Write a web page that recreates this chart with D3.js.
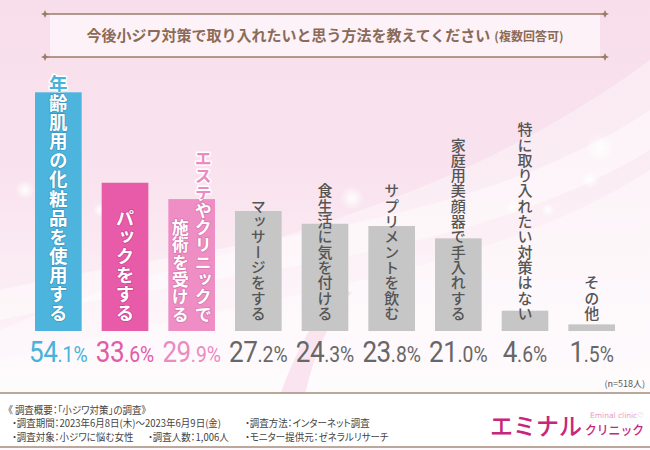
<!DOCTYPE html>
<html>
<head>
<meta charset="utf-8">
<script src="https://cdn.jsdelivr.net/npm/d3@7"></script>
<style>
  body { margin: 0; background: #fff; }
  svg { display: block; font-family: "Noto Sans CJK JP", "Noto Sans", sans-serif; }
</style>
</head>
<body>
<div id="chart"></div>
<script>
// answers (one entry per bar, "\n" splits a label into two columns)
let categories = [
    "年齢肌用の化粧品を使用する",
    "パックをする",
    "エステやクリニックで\n施術を受ける",
    "マッサージをする",
    "食生活に気を付ける",
    "サプリメントを飲む",
    "家庭用美顔器で手入れする",
    "特に取り入れたい対策はない",
    "その他"
];
let values = [54.1, 33.6, 29.9, 27.2, 24.3, 23.8, 21.0, 4.6, 1.5];

let titleText = "今後小ジワ対策で取り入れたいと思う方法を教えてください";
let titleNote = "(複数回答可)";
let sampleNote = "(n=518人)";
let footerLines = [
    ["《 調査概要：「小ジワ対策」の調査》"],
    ["・調査期間：2023年6月8日(木)～2023年6月9日(金)", "・調査方法：インターネット調査"],
    ["・調査対象：小ジワに悩む女性", "・調査人数：1,006人", "・モニター提供元：ゼネラルリサーチ"]
];

const width = 650, height = 450;
const baseline = 331;

const barColor = ["#4db5dd", "#e85ba8", "#ee8ec5", "#c6c6c6", "#c6c6c6", "#c6c6c6", "#c6c6c6", "#c6c6c6", "#c6c6c6"];
const textColor = ["#47b2da", "#e35aa6", "#ea8bc2", "#676767", "#676767", "#676767", "#676767", "#676767", "#676767"];
const strokeColor = ["#3a9cc6", "#cf4693", "#d977ae"];

const x = d3.scaleBand()
    .domain(d3.range(categories.length))
    .range([25, 625])
    .paddingInner(0.3)
    .paddingOuter(0.15);

const y = d3.scaleLinear()
    .domain([0, 60])
    .range([baseline, baseline - 60 * 4.412]);

let svg = d3.select("#chart")
    .append("svg")
    .attr("width", width)
    .attr("height", height);

let defs = svg.append("defs");

// background
let bg = defs.append("linearGradient")
    .attr("id", "bg")
    .attr("x1", 0).attr("y1", 0).attr("x2", 0).attr("y2", 1);
bg.append("stop").attr("offset", "0").attr("stop-color", "#f8deeb");
bg.append("stop").attr("offset", "0.4").attr("stop-color", "#f9e3ee");
bg.append("stop").attr("offset", "0.7").attr("stop-color", "#fcf0f6");
bg.append("stop").attr("offset", "1").attr("stop-color", "#fef9fc");

let glow = defs.append("radialGradient").attr("id", "glow");
glow.append("stop").attr("offset", "0").attr("stop-color", "#fff").attr("stop-opacity", 0.95);
glow.append("stop").attr("offset", "1").attr("stop-color", "#fff").attr("stop-opacity", 0);

svg.append("rect")
    .attr("width", width)
    .attr("height", height)
    .attr("fill", "url(#bg)");

// soft swooshes
svg.append("path")
    .attr("d", "M0,330 C180,250 420,230 650,60 L650,395 L0,395 Z")
    .attr("fill", "#fff")
    .attr("opacity", 0.35);
svg.append("path")
    .attr("d", "M0,290 C220,240 470,230 650,110 L650,150 C470,260 220,270 0,320 Z")
    .attr("fill", "#fff")
    .attr("opacity", 0.45);
svg.append("path")
    .attr("d", "M0,360 C230,300 480,280 650,170 L650,395 L0,395 Z")
    .attr("fill", "#fff")
    .attr("opacity", 0.4);
svg.append("path")
    .attr("d", "M280,395 C300,340 320,310 340,290 L352,292 C330,320 315,350 305,395 Z")
    .attr("fill", "#f6d6e6")
    .attr("opacity", 0.6);

[[600, 148, 14], [590, 180, 9], [548, 210, 7], [513, 207, 7], [455, 220, 6], [352, 198, 12], [100, 210, 7], [25, 190, 10]]
    .forEach(function(d) {
        svg.append("circle")
            .attr("cx", d[0]).attr("cy", d[1]).attr("r", d[2])
            .attr("fill", "url(#glow)");
    });

// title box
svg.append("rect")
    .attr("x", 50).attr("y", 14)
    .attr("width", 550).attr("height", 43)
    .attr("fill", "#fdf2f7");

[14, 57].forEach(function(ly) {
    svg.append("line")
        .attr("x1", 45).attr("x2", 605)
        .attr("y1", ly).attr("y2", ly)
        .attr("stroke", "#9a7c6a")
        .attr("stroke-width", 1.3);
    [45, 605].forEach(function(lx) {
        svg.append("path")
            .attr("d", `M${lx},${ly - 4} L${lx + 1.2},${ly - 1.2} L${lx + 4},${ly} L${lx + 1.2},${ly + 1.2} L${lx},${ly + 4} L${lx - 1.2},${ly + 1.2} L${lx - 4},${ly} L${lx - 1.2},${ly - 1.2} Z`)
            .attr("fill", "#9a7c6a");
    });
});

let title = svg.append("text")
    .attr("x", 325)
    .attr("y", 41)
    .attr("text-anchor", "middle")
    .attr("fill", "#8a6a58")
    .attr("font-weight", 700);
title.append("tspan").attr("font-size", 15).text(titleText);
title.append("tspan").attr("font-size", 12).attr("dx", 4).text(titleNote);

// bars
svg.append("g")
    .selectAll("rect")
    .data(values)
    .join("rect")
    .attr("x", (d, i) => x(i))
    .attr("y", d => y(d))
    .attr("width", x.bandwidth())
    .attr("height", d => baseline - y(d))
    .attr("fill", (d, i) => barColor[i]);

// clip paths for the coloured labels (white inside the bar, coloured above it)
values.slice(0, 3).forEach(function(d, i) {
    defs.append("clipPath").attr("id", "in" + i)
        .append("rect")
        .attr("x", x(i) - 10).attr("y", y(d))
        .attr("width", x.bandwidth() + 20).attr("height", baseline - y(d));
    defs.append("clipPath").attr("id", "out" + i)
        .append("rect")
        .attr("x", x(i) - 10).attr("y", 0)
        .attr("width", x.bandwidth() + 20).attr("height", y(d));
});

// vertical labels
let labels = svg.append("g");

categories.forEach(function(c, i) {
    let cols = c.split("\n");
    let cx = x(i) + x.bandwidth() / 2;
    let highlight = i < 3;
    let size = i < 2 ? 18.5 : (i == 2 ? 17 : 15);
    let bottom = highlight ? 323 : 321;

    cols.forEach(function(col, j) {
        let colX = cols.length == 1 ? cx : cx + (j == 0 ? 11.5 : -11.5);

        let addText = function(g) {
            return g.append("text")
                .attr("x", colX)
                .attr("y", bottom)
                .attr("text-anchor", "end")
                .style("writing-mode", "vertical-rl")
                .attr("font-size", size)
                .attr("letter-spacing", i < 2 ? 0.6 : 0.3)
                .attr("font-weight", highlight ? 700 : 500)
                .text(col);
        };

        if (highlight) {
            addText(labels.append("g").attr("clip-path", `url(#out${i})`))
                .attr("fill", textColor[i])
                .attr("stroke", "#fff")
                .attr("stroke-width", 3)
                .attr("paint-order", "stroke")
                .attr("stroke-linejoin", "round");
            addText(labels.append("g").attr("clip-path", `url(#in${i})`))
                .attr("fill", "#fff")
                .attr("stroke", strokeColor[i])
                .attr("stroke-width", 1.6)
                .attr("paint-order", "stroke")
                .attr("stroke-linejoin", "round");
        } else {
            addText(labels).attr("fill", "#555");
        }
    });
});

// percentages
let pct = svg.append("g")
    .selectAll("text")
    .data(values)
    .join("text")
    .attr("transform", (d, i) => `translate(${x(i) + x.bandwidth() / 2},362) scale(0.9,1)`)
    .attr("text-anchor", "middle")
    .attr("fill", (d, i) => textColor[i])
    .style("font-family", "Roboto, 'Noto Sans', sans-serif")
    .attr("font-weight", 400);

pct.append("tspan")
    .attr("font-size", 29)
    .attr("letter-spacing", -0.5)
    .text(d => d.toFixed(1).split(".")[0]);
pct.append("tspan")
    .attr("font-size", 21.5)
    .text(d => "." + d.toFixed(1).split(".")[1] + "%");

svg.append("text")
    .attr("x", 645)
    .attr("y", 387)
    .attr("text-anchor", "end")
    .attr("font-size", 9)
    .attr("fill", "#555")
    .text(sampleNote);

// footer
svg.append("rect")
    .attr("x", 0).attr("y", 393)
    .attr("width", width).attr("height", 54)
    .attr("fill", "#fff");

[393, 447].forEach(function(ly) {
    svg.append("line")
        .attr("x1", 0).attr("x2", width)
        .attr("y1", ly).attr("y2", ly)
        .attr("stroke", "#a38c7b")
        .attr("stroke-width", 1.4);
});

let footerX = [[8], [12, 245], [12, 148, 245]];
footerLines.forEach(function(row, r) {
    row.forEach(function(t, k) {
        svg.append("text")
            .attr("transform", `translate(${footerX[r][k]},${414 + r * 13.3}) scale(0.95,1)`)
            .attr("font-size", 10)
            .style("font-feature-settings", "'palt'")
            .attr("fill", "#444")
            .text(t);
    });
});

// logo
svg.append("text")
    .attr("x", 490).attr("y", 435)
    .attr("font-size", 24)
    .attr("font-weight", 500)
    .attr("textLength", 92)
    .attr("lengthAdjust", "spacingAndGlyphs")
    .attr("fill", "#c8267c")
    .text("エミナル");
svg.append("text")
    .attr("x", 585).attr("y", 435)
    .attr("font-size", 12.5)
    .attr("font-weight", 500)
    .attr("textLength", 59)
    .attr("lengthAdjust", "spacingAndGlyphs")
    .attr("fill", "#c8267c")
    .text("クリニック");
svg.append("text")
    .attr("x", 590).attr("y", 418)
    .attr("font-size", 7.5)
    .attr("fill", "#e79cc4")
    .style("font-family", "'DejaVu Sans', sans-serif")
    .text("Eminal clinic♡");
</script>
</body>
</html>
